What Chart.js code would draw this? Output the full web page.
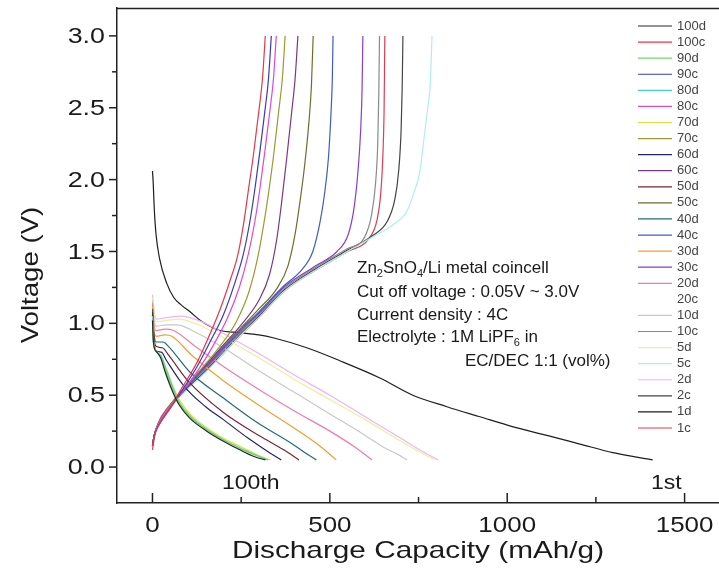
<!DOCTYPE html>
<html><head><meta charset="utf-8">
<script src="https://cdn.jsdelivr.net/npm/chart.js@4"></script>
<style>html,body{margin:0;padding:0;background:#fff}#c{display:block}</style>
</head><body>
<canvas id="c" width="719" height="574"></canvas>
<script>
// ---- tick labels ----
const xMajorTicks = [0, 500, 1000, 1500];
const xMinorTicks = [250, 750, 1250];
const yMajorTicks = [0, 0.5, 1.0, 1.5, 2.0, 2.5, 3.0];
const yMinorTicks = [0.25, 0.75, 1.25, 1.75, 2.25, 2.75];

// ---- series (capacity mAh/g, voltage V) ----
const d100 = [[0,1.02],[3,0.86],[12,0.80],[23,0.76],[36,0.66],[56,0.53],[76,0.43],[105,0.34],[153,0.25],[200,0.18],[246,0.12],[290,0.07],[318,0.05]];
const c100 = [[0,0.15],[5,0.22],[13,0.27],[50,0.41],[78,0.53],[126,0.73],[154,0.88],[191,1.10],[219,1.30],[240,1.47],[256,1.68],[270,1.92],[285,2.18],[300,2.48],[310,2.70],[318,3.0]];
const d90 = [[0,1.03],[3,0.86],[12,0.80],[24,0.76],[37,0.67],[57,0.54],[77,0.44],[106,0.35],[154,0.26],[200,0.19],[247,0.13],[292,0.08],[322,0.05]];
const c90 = [[0,0.15],[5,0.22],[13,0.27],[50,0.41],[80,0.52],[126,0.70],[160,0.86],[200,1.06],[232,1.28],[256,1.48],[274,1.70],[289,1.94],[303,2.20],[317,2.48],[327,2.70],[335,3.0]];
const d80 = [[0,1.04],[3,0.87],[12,0.80],[25,0.77],[38,0.68],[58,0.55],[78,0.44],[108,0.35],[154,0.26],[200,0.19],[248,0.13],[295,0.08],[326,0.05]];
const c80 = [[0,0.15],[5,0.22],[13,0.28],[50,0.42],[86,0.53],[130,0.68],[170,0.84],[212,1.04],[246,1.26],[270,1.48],[288,1.70],[303,1.94],[317,2.20],[331,2.48],[341,2.70],[349,3.0]];
const d70 = [[0,1.05],[3,0.88],[12,0.80],[25,0.77],[40,0.68],[60,0.55],[80,0.45],[110,0.36],[155,0.27],[200,0.20],[250,0.14],[300,0.08],[332,0.05]];
const c70 = [[0,0.15],[5,0.22],[13,0.28],[50,0.43],[86,0.54],[140,0.69],[190,0.84],[236,1.01],[272,1.22],[296,1.45],[313,1.68],[328,1.92],[342,2.18],[356,2.48],[366,2.70],[374,3.0]];
const d60 = [[0,1.06],[3,0.90],[10,0.81],[25,0.80],[40,0.74],[90,0.56],[150,0.42],[200,0.33],[270,0.20],[330,0.10],[363,0.05]];
const c60 = [[0,0.15],[5,0.22],[13,0.28],[50,0.43],[90,0.55],[150,0.71],[200,0.85],[250,0.99],[300,1.16],[330,1.34],[350,1.58],[364,1.84],[378,2.14],[392,2.46],[402,2.70],[410,3.0]];
const d50 = [[0,1.08],[3,0.93],[10,0.84],[28,0.83],[45,0.78],[100,0.60],[200,0.38],[300,0.22],[370,0.12],[413,0.05]];
const c50 = [[0,0.15],[5,0.22],[13,0.28],[50,0.43],[90,0.55],[150,0.71],[200,0.84],[250,0.97],[300,1.10],[350,1.24],[382,1.40],[402,1.62],[416,1.85],[429,2.10],[441,2.40],[448,2.65],[453,3.0]];
const d40 = [[0,1.10],[3,0.96],[10,0.87],[30,0.87],[45,0.84],[106,0.66],[200,0.48],[295,0.31],[389,0.17],[430,0.10],[462,0.05]];
const c40 = [[0,0.15],[5,0.22],[13,0.28],[50,0.43],[90,0.55],[150,0.70],[200,0.83],[250,0.96],[300,1.08],[370,1.26],[420,1.37],[452,1.50],[472,1.70],[485,1.90],[496,2.15],[503,2.45],[507,2.70],[509,3.0]];
const d30 = [[0,1.12],[3,0.99],[10,0.91],[35,0.92],[55,0.91],[110,0.78],[200,0.60],[300,0.43],[400,0.27],[470,0.15],[518,0.05]];
const c30 = [[0,0.15],[5,0.22],[13,0.28],[50,0.42],[90,0.54],[150,0.69],[200,0.82],[250,0.95],[300,1.07],[370,1.25],[460,1.40],[520,1.50],[552,1.62],[568,1.80],[579,2.05],[587,2.35],[591,2.65],[593,3.0]];
const d20 = [[0,1.14],[3,1.02],[10,0.95],[35,0.96],[60,0.95],[120,0.84],[200,0.70],[300,0.54],[400,0.39],[500,0.25],[570,0.14],[619,0.05]];
const c20 = [[0,0.15],[13,0.28],[50,0.42],[90,0.54],[150,0.69],[200,0.81],[250,0.94],[300,1.06],[370,1.24],[460,1.39],[550,1.52],[585,1.62],[602,1.82],[612,2.10],[618,2.50],[620,3.0]];
const d10 = [[0,1.16],[3,1.06],[10,0.98],[40,0.99],[70,0.99],[120,0.94],[200,0.83],[300,0.67],[400,0.52],[500,0.37],[600,0.22],[650,0.14],[690,0.09],[718,0.05]];
const c10 = [[0,0.15],[5,0.22],[13,0.28],[50,0.42],[90,0.54],[150,0.68],[200,0.81],[250,0.94],[300,1.06],[370,1.24],[460,1.39],[550,1.52],[598,1.60],[618,1.76],[629,1.98],[635,2.25],[638,2.60],[640,3.0]];
const d5 = [[0,1.18],[3,1.10],[10,1.01],[40,1.02],[75,1.03],[130,0.99],[200,0.90],[300,0.76],[400,0.61],[500,0.47],[600,0.33],[700,0.18],[750,0.11],[795,0.05]];
const c5 = [[0,0.15],[5,0.21],[13,0.27],[50,0.41],[90,0.52],[150,0.66],[200,0.79],[250,0.92],[300,1.04],[370,1.22],[460,1.37],[550,1.50],[620,1.60],[680,1.69],[717,1.78],[740,1.93],[754,2.06],[765,2.28],[776,2.50],[783,2.66],[788,3.0]];
const d2 = [[0,1.20],[3,1.12],[10,1.03],[40,1.04],[80,1.05],[140,1.01],[200,0.93],[300,0.79],[400,0.64],[500,0.50],[600,0.35],[700,0.20],[760,0.11],[805,0.05]];
const c2 = [[0,0.15],[5,0.21],[13,0.27],[50,0.41],[90,0.53],[150,0.67],[200,0.80],[250,0.93],[300,1.05],[370,1.23],[460,1.38],[550,1.51],[620,1.61],[662,1.71],[683,1.86],[694,2.06],[701,2.35],[704,2.65],[706,3.0]];
const d1 = [[0,2.06],[2,1.98],[5,1.80],[10,1.62],[20,1.45],[40,1.28],[60,1.18],[80,1.13],[106,1.08],[135,1.02],[162,0.98],[191,0.95],[247,0.935],[300,0.92],[340,0.90],[435,0.83],[528,0.74],[641,0.62],[734,0.50],[830,0.42],[923,0.35],[1017,0.28],[1112,0.22],[1205,0.16],[1298,0.10],[1410,0.05]];
const c1 = [[0,0.12],[5,0.20],[15,0.30],[45,0.42],[90,0.53],[150,0.67],[200,0.79],[250,0.92],[300,1.04],[370,1.22],[460,1.37],[550,1.50],[610,1.59],[633,1.72],[644,1.92],[650,2.20],[653,2.50],[655,3.0]];

const seriesLabels = ['100d','100c','90d','90c','80d','80c','70d','70c','60d','60c','50d','50c','40d','40c','30d','30c','20d','20c','10d','10c','5d','5c','2d','2c','1d','1c'];
const seriesData = [d100,c100,d90,c90,d80,c80,d70,c70,d60,c60,d50,c50,d40,c40,d30,c30,d20,c20,d10,c10,d5,c5,d2,c2,d1,c1];
const seriesColors = ['#262626','#e2394a','#6fd86a','#3a3ab8','#4cc9dc','#dc48dc','#e6dc3c','#9c9a32','#23236e','#7e3585','#7d2233','#6e6e2c','#1f6e70','#3e5cc4','#f0a030','#8a3ccc','#f07ab4','#ffffff','#c8c8c8','#8a8a8a','#f0eca0','#aeeeee','#f0b4f0','#444444','#1e1e1e','#e03c52'];

const FONT = "'Liberation Sans', Arial, sans-serif";

const decor = {
  id: 'decor',
  afterDraw(chart) {
    const ctx = chart.ctx, a = chart.chartArea, xs = chart.scales.x, ys = chart.scales.y;
    ctx.save();
    ctx.strokeStyle = '#222'; ctx.lineWidth = 1.5;
    const seg = (x1,y1,x2,y2)=>{ctx.beginPath();ctx.moveTo(x1,y1);ctx.lineTo(x2,y2);ctx.stroke();};
    // top frame
    seg(a.left, a.top + 0.5, a.right, a.top + 0.5);
    // y ticks (outward)
    yMajorTicks.forEach(v => { const p = ys.getPixelForValue(v); seg(a.left - 8, p, a.left, p); });
    yMinorTicks.forEach(v => { const p = ys.getPixelForValue(v); seg(a.left - 5, p, a.left, p); });
    // x ticks (inward)
    xMajorTicks.forEach(v => { const p = xs.getPixelForValue(v); seg(p, a.bottom, p, a.bottom - 10); });
    xMinorTicks.forEach(v => { const p = xs.getPixelForValue(v); seg(p, a.bottom, p, a.bottom - 6); });
    // stretched text helper
    const wide = (txt, x, y, font, sx, align, base) => {
      ctx.save(); ctx.translate(x, y); ctx.scale(sx, 1);
      ctx.font = font; ctx.textAlign = align; ctx.textBaseline = base;
      ctx.fillText(txt, 0, 0); ctx.restore();
    };
    ctx.fillStyle = '#1a1a1a';
    ys.ticks.forEach(t => wide(t.value.toFixed(1), a.left - 12, ys.getPixelForValue(t.value) + 1, '22px ' + FONT, 1.22, 'right', 'middle'));
    xs.ticks.forEach(t => wide(String(t.value), xs.getPixelForValue(t.value), a.bottom + 29, '22px ' + FONT, 1.18, 'center', 'alphabetic'));
    // axis titles
    wide('Discharge Capacity (mAh/g)', (a.left + a.right) / 2, 558, '24px ' + FONT, 1.24, 'center', 'alphabetic');
    ctx.save();
    ctx.translate(31, 275); ctx.rotate(-Math.PI / 2);
    ctx.scale(1.15, 1);
    ctx.font = '24px ' + FONT; ctx.textAlign = 'center'; ctx.textBaseline = 'middle';
    ctx.fillText('Voltage (V)', 0, 0);
    ctx.restore();
    // cycle labels
    wide('100th', 222, 483, '20px ' + FONT, 1.15, 'left', 'middle');
    wide('1st', 651, 483, '20px ' + FONT, 1.15, 'left', 'middle');
    // annotation
    const big = '17px ' + FONT, sub = '11px ' + FONT;
    ctx.textAlign = 'left'; ctx.textBaseline = 'middle';
    const runs = (x, y, parts) => {
      parts.forEach(([txt, isSub]) => {
        ctx.font = isSub ? sub : big;
        ctx.fillText(txt, x, isSub ? y + 6 : y);
        x += ctx.measureText(txt).width;
      });
    };
    runs(357, 268, [['Zn'],['2',1],['SnO'],['4',1],['/Li metal coincell']]);
    runs(357, 292, [['Cut off voltage : 0.05V ~ 3.0V']]);
    runs(357, 315, [['Current density : 4C']]);
    runs(357, 337, [['Electrolyte : 1M LiPF'],['6',1],[' in']]);
    runs(465, 361, [['EC/DEC 1:1 (vol%)']]);
    // legend
    ctx.font = '13px ' + FONT; ctx.lineWidth = 1.2;
    chart.data.datasets.forEach((ds, i) => {
      const y = 26 + i * 16.08;
      ctx.strokeStyle = ds.borderColor;
      seg(638, y, 672, y);
      ctx.fillStyle = '#444';
      ctx.fillText(ds.label, 677, y);
    });
    ctx.restore();
  }
};

const datasets = seriesLabels.map((lab, i) => ({
  label: lab,
  data: seriesData[i].map(([x, y]) => ({x, y})),
  borderColor: seriesColors[i],
  borderWidth: 1.2,
  pointRadius: 0,
  fill: false,
  cubicInterpolationMode: 'monotone',
  order: seriesColors[i] === '#ffffff' ? 1 : 0
}));

new Chart(document.getElementById('c'), {
  type: 'line',
  data: { datasets },
  options: {
    responsive: false, animation: false, devicePixelRatio: 1,
    layout: { padding: { top: 8, left: 0, right: 0, bottom: 0 } },
    plugins: { legend: { display: false }, tooltip: { enabled: false } },
    scales: {
      x: {
        type: 'linear', min: -100, max: 1597,
        afterBuildTicks: s => { s.ticks = xMajorTicks.map(v => ({ value: v })); },
        afterFit: s => { s.height = 71; },
        ticks: { display: false }, grid: { display: false },
        border: { display: true, color: '#222', width: 1.5 }
      },
      y: {
        type: 'linear', min: -0.25, max: 3.194,
        afterBuildTicks: s => { s.ticks = yMajorTicks.map(v => ({ value: v })); },
        afterFit: s => { s.width = 117; },
        ticks: { display: false }, grid: { display: false },
        border: { display: true, color: '#222', width: 1.5 }
      }
    }
  },
  plugins: [decor]
});
</script></body></html>
